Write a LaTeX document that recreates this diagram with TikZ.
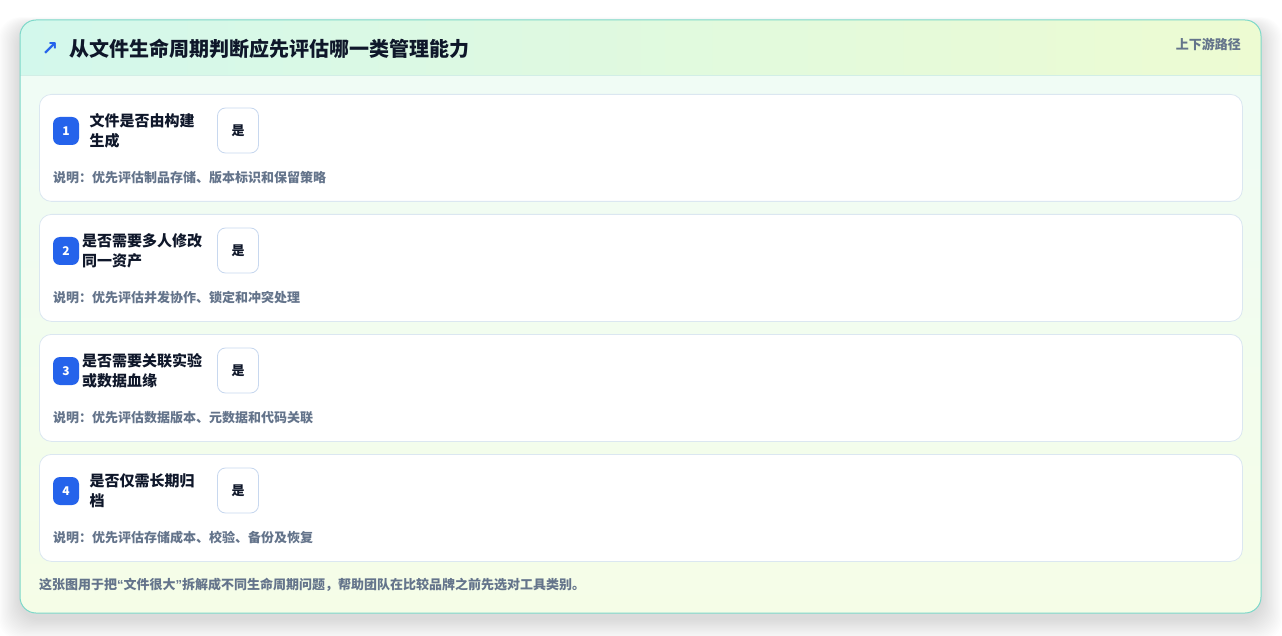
\documentclass[tikz,border=0pt]{standalone}
\usepackage{fontspec}
\setmainfont{Noto Sans CJK SC}
\newfontfamily\dejavu{DejaVu Sans}
\newfontfamily\latinq{Liberation Sans}
\definecolor{bodytop}{HTML}{EFFCF7}
\definecolor{bodybot}{HTML}{F5FDE7}
\definecolor{hdrL}{HTML}{D3F8EC}
\definecolor{hdrR}{HTML}{EDFBD2}
\definecolor{cardborder}{HTML}{7DD8C9}
\definecolor{divc}{HTML}{D2EEE6}
\definecolor{rowborder}{HTML}{DBE7F1}
\definecolor{yesborder}{HTML}{C8D8EF}
\definecolor{darktext}{HTML}{0F172A}
\definecolor{graytext}{HTML}{64748B}
\definecolor{badgeblue}{HTML}{2563EB}
\tikzset{
  rowbox/.style={draw=rowborder, line width=0.8pt, fill=white, rounded corners=12pt,
    minimum width=1203pt, minimum height=107pt, anchor=north west, inner sep=0pt},
  badge/.style={fill=badgeblue, rounded corners=7pt, minimum width=26pt, minimum height=28pt,
    inner sep=0pt, text=white, font=\fontsize{12}{12}\selectfont\bfseries},
  ttl/.style={align=left, text=darktext, inner sep=0pt, font=\fontsize{15}{20}\selectfont\bfseries},
  yesbox/.style={draw=yesborder, line width=0.8pt, fill=white, rounded corners=8pt,
    minimum width=41pt, minimum height=45pt, inner sep=0pt, text=darktext,
    font=\fontsize{13}{13}\selectfont\bfseries},
  desc/.style={anchor=west, inner sep=0pt, text=graytext, font=\fontsize{13}{13}\selectfont\bfseries},
}
\begin{document}
\begin{tikzpicture}[x=1pt,y=-1pt]
\useasboundingbox (0,0) rectangle (1282,636);
\fill[white] (0,0) rectangle (1282,636);
% soft shadow
\foreach \i in {1,...,18} {
  \fill[black, opacity=0.007, rounded corners=22pt] (20-\i*1.2, 20+6-\i*0.5) rectangle (1261+\i*1.2, 613+6+\i*1.2);
}
% card
\path[rounded corners=16pt, top color=bodytop, bottom color=bodybot] (20,20) rectangle (1261,613);
\begin{scope}
  \clip[rounded corners=16pt] (20,20) rectangle (1261,613);
  \shade[left color=hdrL, right color=hdrR] (20,20) rectangle (1261,75);
\end{scope}
\draw[divc, line width=0.8pt] (20,75) -- (1261,75);
\draw[cardborder, line width=1pt, rounded corners=16pt] (20,20) rectangle (1261,613);
% header
\node[inner sep=0pt, text=badgeblue, font=\dejavu\fontsize{20}{20}\selectfont\bfseries] (icon) at (50,49) {↗};
\node[anchor=west, inner sep=0pt, text=darktext, font=\fontsize{20}{20}\selectfont\bfseries] (title) at (69,49) {从文件生命周期判断应先评估哪一类管理能力};
\node[anchor=east, inner sep=0pt, text=graytext, font=\fontsize{13}{13}\selectfont\bfseries] (path) at (1241,44) {上下游路径};
% rows
\foreach \i/\t/\d in {
  1/{文件是否由构建\\生成}/{说明：优先评估制品存储、版本标识和保留策略},
  2/{是否需要多人修改\\同一资产}/{说明：优先评估并发协作、锁定和冲突处理},
  3/{是否需要关联实验\\或数据血缘}/{说明：优先评估数据版本、元数据和代码关联},
  4/{是否仅需长期归\\档}/{说明：优先评估存储成本、校验、备份及恢复}} {
  \pgfmathsetmacro{\yy}{94+120*(\i-1)}
  \node[rowbox] (r\i) at (39,\yy) {};
  \node[badge] (b\i) at (66,\yy+37) {\i};
  \node[ttl] (t\i) at (142,\yy+37) {\t};
  \node[yesbox] (y\i) at (238,\yy+36.5) {是};
  \node[desc] (d\i) at (53,\yy+84) {\d};
}
% footer
\node[desc] (foot) at (39,585) {这张图用于把{\latinq\bfseries “}文件很大{\latinq\bfseries ”}拆解成不同生命周期问题，帮助团队在比较品牌之前先选对工具类别。};
\end{tikzpicture}
\end{document}
